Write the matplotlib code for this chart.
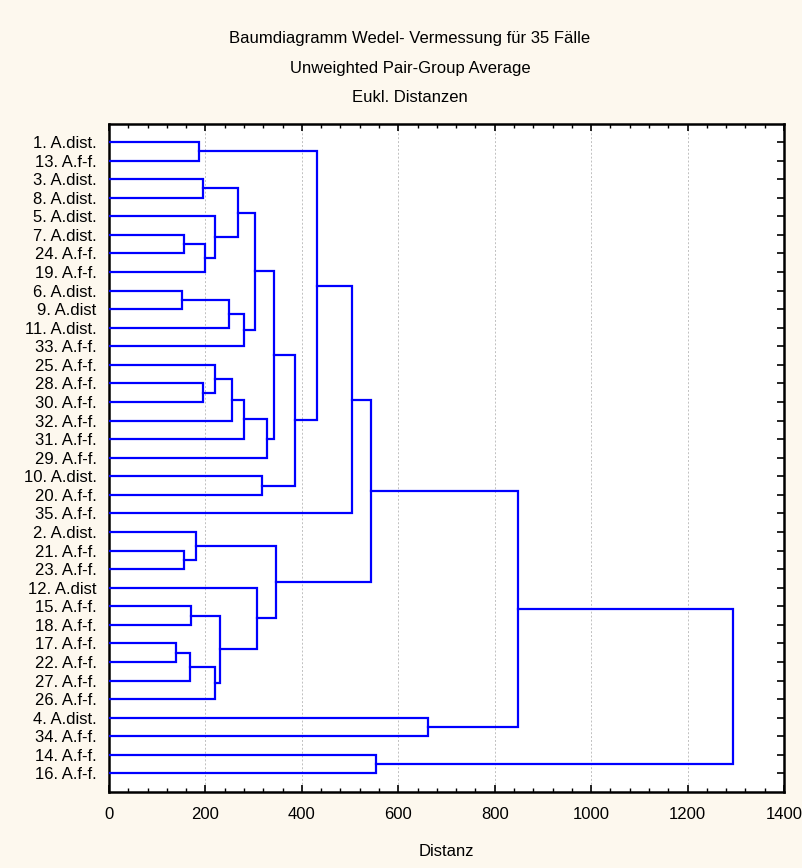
import numpy as np
import matplotlib.pyplot as plt
from matplotlib.ticker import MultipleLocator

plt.rcParams['font.family'] = ['Liberation Sans', 'DejaVu Sans']

# leaves in display order (top to bottom)
leaf_labels = ['1. A.dist.', '13. A.f-f.', '3. A.dist.', '8. A.dist.', '5. A.dist.',
               '7. A.dist.', '24. A.f-f.', '19. A.f-f.', '6. A.dist.', '9. A.dist',
               '11. A.dist.', '33. A.f-f.', '25. A.f-f.', '28. A.f-f.', '30. A.f-f.',
               '32. A.f-f.', '31. A.f-f.', '29. A.f-f.', '10. A.dist.', '20. A.f-f.',
               '35. A.f-f.', '2. A.dist.', '21. A.f-f.', '23. A.f-f.', '12. A.dist',
               '15. A.f-f.', '18. A.f-f.', '17. A.f-f.', '22. A.f-f.', '27. A.f-f.',
               '26. A.f-f.', '4. A.dist.', '34. A.f-f.', '14. A.f-f.', '16. A.f-f.']

# merges: (child a, child b); new clusters get ids 35, 36, ...
merge_a = [0, 2, 5, 37, 4, 36, 8, 41, 42, 40, 13, 12, 46, 47, 48, 44, 18, 50, 35, 53,
           22, 21, 25, 27, 58, 59, 57, 24, 56, 54, 31, 64, 33, 66]
merge_b = [1, 3, 6, 7, 38, 39, 9, 10, 11, 43, 14, 45, 15, 16, 17, 49, 19, 51, 52, 20,
           23, 55, 26, 28, 29, 30, 60, 61, 62, 63, 32, 65, 34, 67]
merge_dist = [186, 195, 156, 200, 220, 268, 151, 249, 279, 303, 195, 220, 255, 279, 327,
              342, 317, 386, 431, 504, 156, 181, 171, 140, 167, 220, 230, 308, 347, 543,
              661, 848, 553, 1294]

n = len(leaf_labels)
fig = plt.figure(figsize=(8.03, 8.68), dpi=100, facecolor='#fdf8ee')
ax = fig.add_axes([109 / 803, 1 - 792 / 868, 675 / 803, (792 - 123.5) / 868])
ax.set_facecolor('white')

pos = {i: (0.0, float(i)) for i in range(n)}
for k, (a, b, d) in enumerate(zip(merge_a, merge_b, merge_dist)):
    xa, ya = pos[a]
    xb, yb = pos[b]
    ax.plot([xa, d, d, xb], [ya, ya, yb, yb], color='#0000ff', lw=1.6,
            solid_joinstyle='miter', zorder=3)
    pos[n + k] = (d, (ya + yb) / 2)

ax.set_xlim(0, 1400)
ax.set_ylim(n, -1)
ax.xaxis.set_major_locator(MultipleLocator(200))
ax.xaxis.set_minor_locator(MultipleLocator(40))
ax.set_yticks(range(n))
ax.set_yticklabels(leaf_labels)
ax.grid(axis='x', which='major', color='#c0c0c0', ls=(0, (2, 2)), lw=0.7, zorder=0)

ax.tick_params(axis='x', which='major', direction='in', top=True, length=5, width=1.2,
               labelsize=12, pad=11, colors='black')
ax.tick_params(axis='x', which='minor', direction='in', top=True, length=3, width=1)
ax.tick_params(axis='y', which='major', direction='in', right=True, length=5, width=1.2,
               labelsize=12, pad=9)
for s in ax.spines.values():
    s.set_linewidth(1.8)

ax.set_xlabel('Distanz', fontsize=12, labelpad=16)

fig.text(410 / 803, 1 - 38 / 868, 'Baumdiagramm Wedel- Vermessung für 35 Fälle',
         ha='center', va='center', fontsize=12)
fig.text(410 / 803, 1 - 68 / 868, 'Unweighted Pair-Group Average',
         ha='center', va='center', fontsize=12)
fig.text(410 / 803, 1 - 98 / 868, 'Eukl. Distanzen',
         ha='center', va='center', fontsize=12)

fig.savefig('out.png', dpi=100, facecolor=fig.get_facecolor())
